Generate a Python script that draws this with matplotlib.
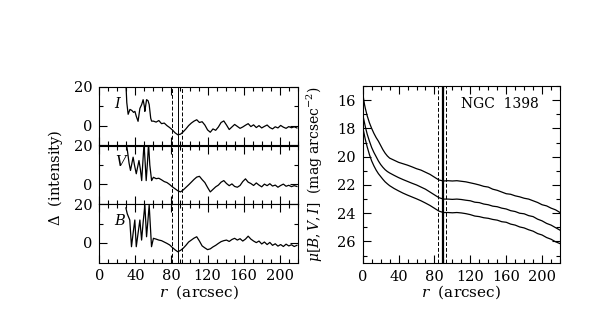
import numpy as np
import matplotlib
matplotlib.use("Agg")
import matplotlib.pyplot as plt
from matplotlib.ticker import MultipleLocator, FixedLocator

plt.rcParams['font.family'] = ['DejaVu Serif']
plt.rcParams['mathtext.fontset'] = 'dejavuserif'
plt.rcParams['font.size'] = 10.5

# ---- residual profiles (left panels) ----
r_in_I = [29.5, 30.5, 32, 34, 36, 38, 39.5, 41, 43, 45, 47, 48.6, 50, 50.5, 52.4, 54, 55.3, 57, 58]
d_in_I = [22, 12, 6, 8.5, 8, 7, 7.5, 5, 2.4, 9, 11, 13.5, 10, 7.5, 13.5, 13, 11, 4, 2.5]

r_in_V = [29.5, 31, 33, 34.6, 37.5, 39, 41, 44, 45.5, 47, 49.6, 51, 52, 53.5, 54.6, 56, 58]
d_in_V = [22, 18, 11, 7.2, 14, 10, 5.5, 12.3, 8, 2, 21, 10, 2, 12, 21, 10, 2]

r_in_B = [29.5, 31, 33.8, 35.7, 37.5, 39.4, 41, 43, 45, 46.9, 48.5, 50.5, 52.4, 54, 55.3, 57.9]
d_in_B = [18, 15, 11.8, -1.9, 5, 11.8, -1.9, 5, 11.8, 1.5, 10, 19.5, 3.2, 12, 19.5, -1.9]

r_out = list(range(60, 220, 3))
d_out_I = [2.5, 2.0, 2.8, 1.2, 1.5, 0.2, -0.8, -2.0, -3.5, -4.5, -4.2, -3.0, -1.5, 0.2, 1.5, 2.5, 3.2, 1.8,
           2.2, 0.5, -2.0, -3.2, -1.5, -2.2, -0.5, 1.8, 2.6, 0.5, -1.8, -0.5, 0.8, -0.2, -1.2, -0.5, 0.4, 1.2,
           -0.3, 0.6, -0.8, 0.2, -1.0, -0.2, 0.5, -0.8, -1.5, -0.4, -1.0, 0.3, -0.6, -1.2, -0.3, -0.9, -0.4, -1.0]
d_out_V = [3.7, 3.0, 3.2, 2.4, 1.5, 1.0, 0.0, -1.2, -2.2, -3.2, -3.8, -2.8, -1.5, -0.2, 1.2, 2.6, 3.8, 4.2,
           2.5, 1.0, -1.5, -3.8, -2.5, -1.2, -0.3, 1.2, 2.0, 0.5, -0.6, 0.3, -1.0, -1.4, -0.5, 1.5, 2.9, 1.2,
           0.5, -0.5, 0.8, -0.3, -1.2, 0.2, -0.6, 0.4, -0.8, -0.3, -1.4, -0.5, 0.2, -0.9, -0.4, -1.1, -0.6, -1.0]
d_out_B = [2.4, 2.0, 1.5, 1.2, 0.5, -0.2, -1.0, -2.3, -3.5, -4.5, -3.8, -2.7, -1.2, 0.5, 1.5, 2.5, 3.2, 1.0,
           -1.5, -2.5, -3.4, -3.0, -2.0, -1.2, -0.2, 0.7, 1.2, 1.5, 0.8, 1.8, 2.4, 1.5, 2.2, 1.0, 2.0, 3.5,
           2.0, 1.0, 0.2, 1.0, -0.5, 0.5, -0.8, 0.3, -1.2, -0.4, -1.6, -0.8, -1.8, -0.6, -1.5, -0.9, -1.8, -1.2]

band_labels = ['I', 'V', 'B']
band_label_r = [20, 24, 23]

# ---- surface brightness profiles (right panel) ----
r_prof = [0, 1, 2, 3, 5, 7.5, 10, 12.5, 15, 17.5, 20, 22.5, 25, 27.5, 30, 35, 40, 45, 50, 55, 60, 65, 70,
          75, 80, 85, 90, 95, 100, 105, 110, 115, 120, 125, 130, 135, 140, 145, 150, 155, 160, 165, 170,
          175, 180, 185, 190, 195, 200, 205, 210, 215, 220]
mu_I = [15.5, 15.9, 16.3, 16.6, 17.1, 17.6, 18.0, 18.35, 18.65, 18.9, 19.2, 19.5, 19.75, 19.95, 20.1,
        20.25, 20.4, 20.5, 20.6, 20.72, 20.85, 20.95, 21.1, 21.25, 21.45, 21.65, 21.72, 21.7, 21.72, 21.7,
        21.74, 21.78, 21.85, 21.92, 22.0, 22.1, 22.15, 22.3, 22.38, 22.5, 22.62, 22.66, 22.77, 22.84,
        22.94, 23.0, 23.12, 23.24, 23.4, 23.48, 23.64, 23.76, 23.95]
mu_V = [17.0, 17.3, 17.6, 17.9, 18.4, 18.9, 19.35, 19.7, 20.0, 20.3, 20.55, 20.75, 20.92, 21.05, 21.15,
        21.32, 21.48, 21.62, 21.75, 21.88, 22.0, 22.15, 22.3, 22.5, 22.7, 22.9, 23.0, 23.0, 23.02, 23.0,
        23.03, 23.08, 23.12, 23.22, 23.25, 23.35, 23.4, 23.5, 23.54, 23.64, 23.7, 23.82, 23.88, 24.0,
        24.04, 24.17, 24.24, 24.42, 24.54, 24.72, 24.84, 25.02, 25.2]
mu_B = [17.9, 18.2, 18.5, 18.8, 19.3, 19.85, 20.3, 20.65, 20.95, 21.2, 21.4, 21.6, 21.78, 21.92, 22.05,
        22.25, 22.42, 22.58, 22.72, 22.85, 22.98, 23.12, 23.28, 23.45, 23.65, 23.85, 23.95, 23.95, 23.97,
        23.95, 23.98, 24.03, 24.1, 24.2, 24.24, 24.32, 24.36, 24.44, 24.49, 24.6, 24.64, 24.77, 24.84,
        24.97, 25.04, 25.17, 25.27, 25.44, 25.54, 25.72, 25.84, 26.02, 26.15]

# bar-end radii (dashed limits + solid estimate)
bar_left = [81, 87, 92]
bar_right = [84.5, 89.5, 93]


def style_axis(ax):
    ax.tick_params(which='both', direction='in', top=True, right=True, width=0.8)
    ax.tick_params(which='major', length=6, pad=5)
    ax.tick_params(which='minor', length=3)
    for s in ax.spines.values():
        s.set_linewidth(0.8)


fig = plt.figure(figsize=(5.98, 3.18), dpi=100)

# left stack of three panels
left_x, left_w = 0.166, 0.332
ph = 58.5 / 318
bottom0 = 1 - 262.5 / 318
inner = [(r_in_I, d_in_I, d_out_I), (r_in_V, d_in_V, d_out_V), (r_in_B, d_in_B, d_out_B)]
for k, (r_in, d_in, d_out) in enumerate(inner):
    ax = fig.add_axes([left_x, bottom0 + (2 - k) * ph, left_w, ph])
    ax.plot(list(r_in) + r_out, list(d_in) + d_out, color='k', lw=0.9)
    ax.axvline(bar_left[0], color='k', lw=0.7, ls=(0, (4, 2)))
    ax.axvline(bar_left[2], color='k', lw=0.7, ls=(0, (4, 2)))
    ax.axvline(bar_left[1], color='k', lw=0.7)
    ax.set_xlim(0, 220)
    ax.set_ylim(-10, 20)
    ax.xaxis.set_major_locator(MultipleLocator(40))
    ax.xaxis.set_minor_locator(MultipleLocator(10))
    ax.yaxis.set_major_locator(FixedLocator([0, 20]))
    ax.yaxis.set_minor_locator(FixedLocator([10]))
    ax.text(band_label_r[k], 11.5, band_labels[k], fontstyle='italic', ha='center', va='center')
    style_axis(ax)
    if k < 2:
        ax.tick_params(labelbottom=False)
    else:
        ax.set_xlabel('$r$  (arcsec)', fontsize=11, labelpad=0)

fig.text(0.092, 0.44, r'$\Delta$  (intensity)', rotation=90, ha='center', va='center')

# right panel
ax2 = fig.add_axes([0.6065, 1 - 262.7 / 318, 0.330, (262.7 - 86) / 318])
for mu in (mu_I, mu_V, mu_B):
    ax2.plot(r_prof, mu, color='k', lw=0.9)
ax2.axvline(bar_right[0], color='k', lw=0.7, ls=(0, (4, 2)))
ax2.axvline(bar_right[2], color='k', lw=0.7, ls=(0, (4, 2)))
ax2.axvline(bar_right[1], color='k', lw=1.6)
ax2.set_xlim(0, 220)
ax2.set_ylim(27.5, 15)
ax2.xaxis.set_major_locator(MultipleLocator(40))
ax2.xaxis.set_minor_locator(MultipleLocator(10))
ax2.yaxis.set_major_locator(MultipleLocator(2))
ax2.yaxis.set_minor_locator(MultipleLocator(1))
style_axis(ax2)
ax2.set_xlabel('$r$  (arcsec)', fontsize=11, labelpad=0)
ax2.set_ylabel(r'$\mu[B,V,I]$  (mag arcsec$^{-2}$)', fontsize=10, labelpad=9)
ax2.text(0.89, 0.9, 'NGC  1398', transform=ax2.transAxes, ha='right', va='center', fontsize=10)

fig.savefig('out.png', dpi=100, facecolor='white')
